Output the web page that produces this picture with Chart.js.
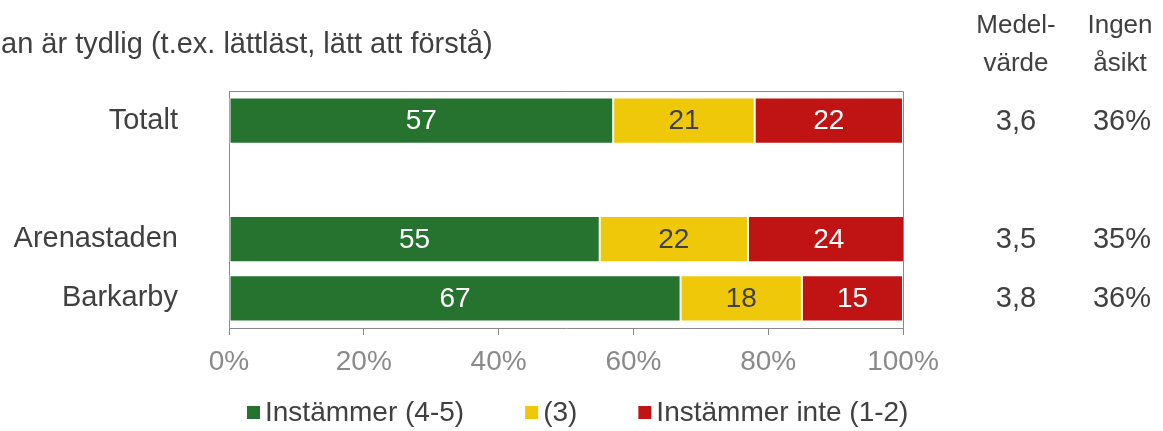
<!DOCTYPE html>
<html>
<head>
<meta charset="utf-8">
<script src="https://cdn.jsdelivr.net/npm/chart.js@4.4.1/dist/chart.umd.min.js"></script>
<style>
  html, body { margin: 0; padding: 0; background: #fff; }
  #wrap { width: 1163px; height: 431px; position: relative; }
</style>
</head>
<body>
<div id="wrap"><canvas id="chart"></canvas></div>
<script>
// data
const categories = ['Totalt', '', 'Arenastaden', 'Barkarby'];
const instammer = [57, null, 55, 67];
const neutral = [21, null, 22, 18];
const instammerInte = [22, null, 24, 15];
const medelvarde = ['3,6', '', '3,5', '3,8'];
const ingenAsikt = ['36%', '', '35%', '36%'];
const xTicks = [0, 20, 40, 60, 80, 100];

const titleText = 'an är tydlig (t.ex. lättläst, lätt att förstå)';
const FONT = '"Liberation Sans", Arial, sans-serif';
const DARK = '#404040';
const GREY = '#8a8a8a';

// title, right-hand columns, plot box, value labels and legend
const extras = {
    id: 'extras',
    afterDatasetsDraw(chart) {
        const ctx = chart.ctx;
        const area = chart.chartArea;
        const y = chart.scales.y;
        ctx.save();
        ctx.strokeStyle = GREY;
        ctx.lineWidth = 1;
        ctx.beginPath();
        ctx.moveTo(area.left, area.top + 0.5);
        ctx.lineTo(area.right + 0.5, area.top + 0.5);
        ctx.lineTo(area.right + 0.5, area.bottom);
        ctx.stroke();

        ctx.textBaseline = 'middle';
        // labels inside the bars
        ctx.font = '28px ' + FONT;
        chart.data.datasets.forEach((ds, di) => {
            const meta = chart.getDatasetMeta(di);
            meta.data.forEach((bar, i) => {
                const v = ds.data[i];
                if (v == null) return;
                const p = bar.getProps(['x', 'y', 'base'], true);
                ctx.fillStyle = ds.labelColor;
                ctx.textAlign = 'center';
                ctx.fillText(String(v), (p.x + p.base) / 2, p.y + 1);
            });
        });

        ctx.fillStyle = DARK;
        ctx.textAlign = 'left';
        ctx.font = '29px ' + FONT;
        ctx.fillText(titleText, 1, 45);

        ctx.textAlign = 'center';
        ctx.font = '26px ' + FONT;
        ctx.fillText('Medel-', 1016, 26);
        ctx.fillText('värde', 1016, 64);
        ctx.fillText('Ingen', 1120, 26);
        ctx.fillText('åsikt', 1120, 64);
        ctx.font = '29px ' + FONT;
        categories.forEach((c, i) => {
            const py = y.getPixelForValue(i);
            if (medelvarde[i]) ctx.fillText(medelvarde[i], 1016, py + 1);
            if (ingenAsikt[i]) ctx.fillText(ingenAsikt[i], 1122, py + 1);
        });

        // legend
        ctx.font = '28px ' + FONT;
        ctx.textAlign = 'left';
        let lx = 247;
        const ly = 413;
        chart.data.datasets.forEach(ds => {
            ctx.fillStyle = ds.backgroundColor;
            ctx.fillRect(lx, ly - 7, 13, 13);
            ctx.fillStyle = DARK;
            ctx.fillText(ds.label, lx + 18, ly);
            lx += 18 + ctx.measureText(ds.label).width + 61;
        });
        ctx.restore();
    }
};

Chart.defaults.font.family = FONT;
Chart.defaults.font.size = 28;

const ctx = document.getElementById('chart').getContext('2d');
new Chart(ctx, {
    type: 'bar',
    data: {
        labels: categories,
        datasets: [
            { label: 'Instämmer (4-5)', data: instammer, backgroundColor: '#267330', labelColor: '#ffffff' },
            { label: '(3)', data: neutral, backgroundColor: '#f0c80a', labelColor: DARK },
            { label: 'Instämmer inte (1-2)', data: instammerInte, backgroundColor: '#c01414', labelColor: '#ffffff' }
        ].map(d => Object.assign(d, {
            borderColor: '#ffffff',
            borderWidth: 1,
            borderSkipped: false,
            barPercentage: 0.78,
            categoryPercentage: 1
        }))
    },
    options: {
        indexAxis: 'y',
        responsive: true,
        maintainAspectRatio: false,
        animation: false,
        layout: { padding: { top: 91, right: 260, left: 0, bottom: 53 } },
        plugins: {
            legend: { display: false },
            tooltip: { enabled: false }
        },
        scales: {
            x: {
                stacked: true,
                min: 0,
                max: 100,
                afterBuildTicks: s => { s.ticks = xTicks.map(v => ({ value: v })); },
                afterFit: s => { s.height = 50; },
                ticks: { color: GREY, padding: 10, callback: v => v + '%', font: { size: 28 } },
                grid: { drawOnChartArea: false, drawTicks: true, tickLength: 7, tickColor: GREY },
                border: { display: true, color: GREY }
            },
            y: {
                stacked: true,
                afterFit: s => { s.width = 229; },
                ticks: { color: DARK, padding: 51, font: { size: 29 } },
                grid: { display: false, drawTicks: false },
                border: { display: true, color: GREY }
            }
        }
    },
    plugins: [extras]
});
</script>
</body>
</html>
